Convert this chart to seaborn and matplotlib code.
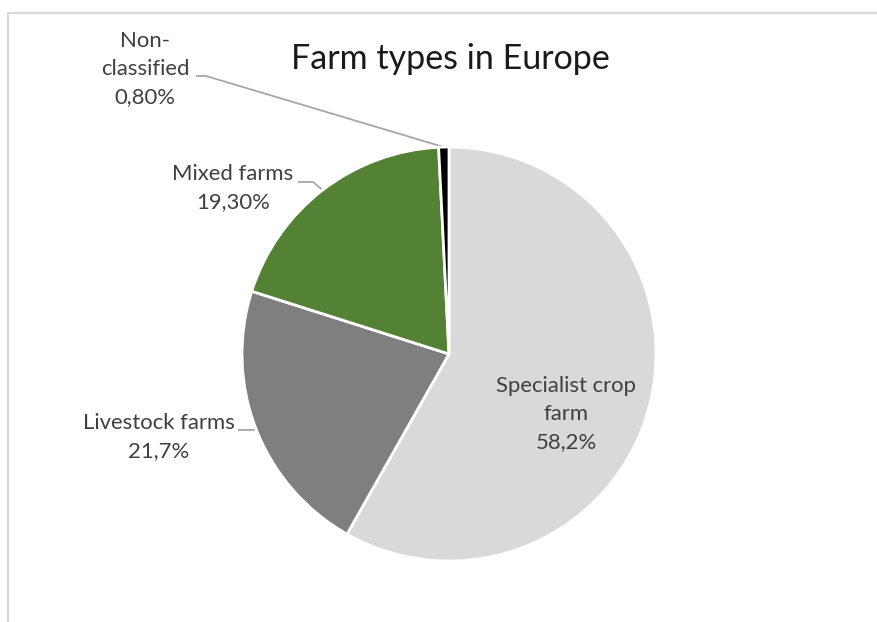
import matplotlib
matplotlib.use("Agg")
import matplotlib.pyplot as plt
import seaborn as sns
import numpy as np
from matplotlib.lines import Line2D

# ---- data ----
categories = ["Specialist crop farm", "Livestock farms", "Mixed farms", "Non-classified"]
values = [58.2, 21.7, 19.3, 0.8]
label_texts = ["Specialist crop\nfarm\n58,2%", "Livestock farms\n21,7%",
               "Mixed farms\n19,30%", "Non-\nclassified\n0,80%"]
title = "Farm types in Europe"

# ---- style ----
colors = ["#D9D9D9", "#7F7F7F", "#548235", "#000000"]
sns.set_theme(style="white")
plt.rcParams['font.family'] = ['Lato', 'DejaVu Sans']

W, H = 878, 622
fig = plt.figure(figsize=(W / 100, H / 100), dpi=100)
ax = fig.add_axes([0, 0, 1, 1])

cx, cy, R = 449, 354, 207  # pixel centre & radius
def px(x, y):
    return ((x - cx) / R, (cy - y) / R)

wedges, _ = ax.pie(values, colors=colors, startangle=90, counterclock=False,
                   radius=1.0, center=(0, 0),
                   wedgeprops=dict(edgecolor="white", linewidth=2))
ax.set_xlim(-cx / R, (W - cx) / R)
ax.set_ylim(-(H - cy) / R, cy / R)
ax.set_aspect('auto')
ax.axis('off')

txt_color = "#404040"
fs = 15.9
# label anchor positions in pixels (layout)
label_pos = [(566, 414), (159, 437), (233, 188), (145, 69)]
elbows = [None, ((238, 430), (250, 430)), ((298, 182), (313, 182)), ((196, 76), (206, 76))]

for i, (w, t) in enumerate(zip(wedges, label_texts)):
    x, y = px(*label_pos[i])
    ax.text(x, y, t, ha="center", va="center", fontsize=fs, color=txt_color,
            linespacing=1.5)
    if elbows[i] is not None:
        ang = np.deg2rad((w.theta1 + w.theta2) / 2)
        ex, ey = np.cos(ang), np.sin(ang)
        (a, b) = elbows[i]
        p1 = px(*a); p2 = px(*b)
        ax.plot([p1[0], p2[0], ex], [p1[1], p2[1], ey], color="#A6A6A6", lw=1.3,
                solid_capstyle="butt", zorder=0.5)

tx, ty = px(450, 59)
ax.text(tx, ty, title, ha="center", va="center", fontsize=24.5, color="#1a1a1a")

# chart frame (partially visible)
fy = 1 - 13 / H
fx = 8 / W
fig.add_artist(Line2D([fx, 1.01], [fy, fy], transform=fig.transFigure, color="#D9D9D9", lw=1.6))
fig.add_artist(Line2D([fx, fx], [-0.01, fy], transform=fig.transFigure, color="#D9D9D9", lw=1.6))

fig.savefig("out.png", dpi=100, facecolor="white")
